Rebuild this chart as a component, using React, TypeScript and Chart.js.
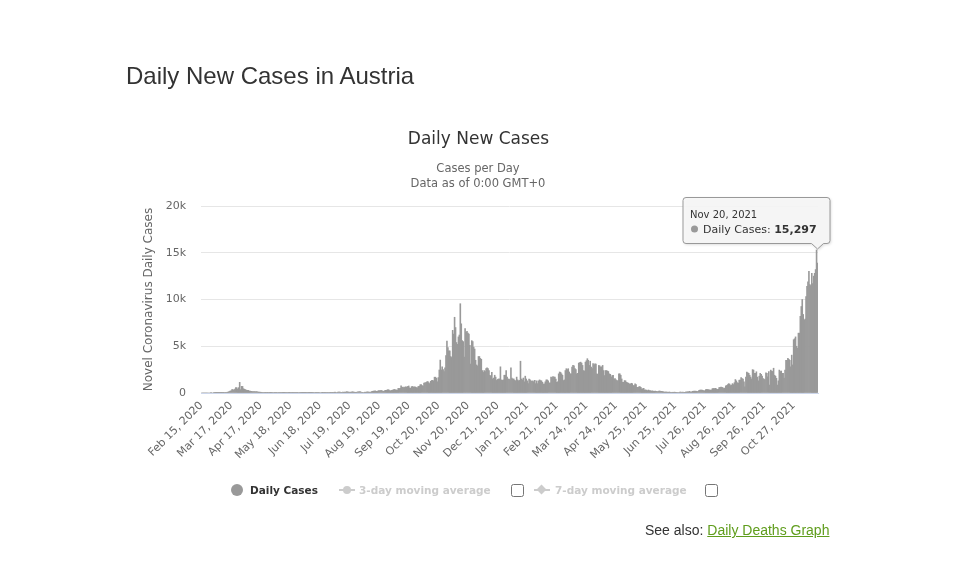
import React, { useEffect, useRef } from "react";
import { Chart, registerables } from "chart.js";

Chart.register(...registerables);

// ---- Data: daily new cases, Austria, Feb 15, 2020 – Nov 21, 2021 ----
const feb2020 = [0, 0, 0, 0, 0, 0, 0, 0, 0, 0, 2, 0, 0, 1, 6];
const mar2020 = [4, 4, 6, 3, 11, 14, 25, 27, 29, 51, 64, 59, 80, 100, 150, 210, 220, 360, 370, 290, 430, 570, 560, 400, 570, 1140, 360, 710, 700, 460, 400];
const apr2020 = [360, 300, 290, 280, 210, 200, 170, 160, 160, 150, 140, 130, 140, 110, 100, 90, 80, 70, 60, 50, 60, 70, 60, 70, 50, 40, 30, 40, 40, 50];
const may2020 = [40, 30, 35, 45, 50, 40, 55, 60, 45, 30, 20, 30, 45, 60, 50, 40, 30, 45, 50, 40, 35, 30, 25, 45, 40, 35, 50, 40, 45, 30, 25];
const jun2020 = [30, 35, 25, 40, 45, 30, 25, 20, 35, 40, 45, 50, 35, 30, 25, 40, 45, 50, 55, 45, 35, 60, 70, 60, 50, 45, 50, 60, 70, 65];
const jul2020 = [70, 60, 80, 90, 50, 60, 110, 100, 90, 80, 70, 90, 80, 100, 90, 140, 120, 100, 80, 90, 100, 130, 110, 90, 80, 70, 100, 130, 120, 140, 110];
const aug2020 = [80, 60, 50, 90, 80, 110, 120, 100, 90, 70, 150, 180, 200, 210, 230, 180, 170, 220, 250, 240, 290, 220, 200, 180, 250, 280, 300, 350, 340, 260, 230];
const sep2020 = [280, 300, 350, 380, 340, 320, 300, 490, 480, 500, 770, 600, 630, 550, 630, 660, 640, 700, 750, 550, 500, 680, 700, 630, 660, 640, 580, 560, 700, 720];
const oct2020 = [880, 900, 800, 750, 1050, 1100, 1120, 1200, 1230, 1100, 1000, 1250, 1340, 1350, 1300, 1690, 1690, 1580, 1200, 1650, 2460, 3520, 2460, 2800, 2500, 2300, 2700, 4000, 5550, 4860, 4500];
const nov2020 = [4500, 3900, 3800, 6700, 6300, 8100, 7000, 5400, 5200, 6000, 6200, 9550, 7400, 5600, 5500, 3850, 6900, 6500, 6600, 6400, 6300, 5100, 3100, 5600, 5500, 4900, 4700, 3500, 3000, 2900];
const dec2020 = [3900, 3900, 3700, 3600, 2400, 2200, 2400, 2300, 2600, 2700, 2600, 2400, 1900, 1800, 2200, 1500, 1600, 1900, 1700, 1350, 1450, 1500, 1500, 2800, 1400, 1350, 1400, 1900, 1900, 2400, 1700];
const jan2021 = [1500, 1500, 1400, 2700, 1600, 1500, 1500, 1350, 1300, 1700, 1400, 1300, 1350, 3400, 1500, 1400, 1600, 1200, 1800, 1500, 1300, 1000, 1500, 1400, 1300, 1250, 1300, 1200, 1350, 1000, 1300];
const feb2021 = [1000, 1300, 1400, 1330, 1300, 1150, 950, 970, 1200, 1400, 1400, 1300, 1050, 1100, 1700, 1650, 1750, 1700, 1700, 1500, 1150, 1200, 2050, 2250, 2200, 2050, 1900, 1330];
const mar2021 = [1400, 2400, 2600, 2500, 2600, 2250, 2050, 2050, 2770, 2950, 2900, 2600, 2500, 2050, 2100, 3200, 3250, 3300, 3200, 2950, 2400, 2350, 3300, 3450, 3670, 3500, 2950, 3400, 2770, 2600, 3150];
const apr2021 = [3000, 3130, 3100, 2050, 2000, 2950, 2900, 2770, 2800, 2950, 2400, 1870, 2400, 2400, 2350, 2300, 2050, 2000, 1700, 1870, 1900, 1500, 1550, 1400, 1330, 1300, 2050, 2050, 1900, 1500];
const may2021 = [1150, 1150, 1330, 1300, 1150, 1100, 1050, 970, 950, 1040, 1000, 800, 790, 970, 900, 610, 600, 650, 680, 600, 430, 450, 500, 320, 330, 300, 250, 320, 260, 250, 200];
const jun2021 = [230, 200, 180, 210, 190, 150, 160, 200, 210, 190, 170, 150, 120, 90, 110, 100, 90, 80, 110, 70, 60, 80, 70, 90, 80, 75, 60, 50, 80, 90];
const jul2021 = [90, 80, 100, 60, 70, 110, 110, 130, 130, 180, 110, 100, 180, 190, 200, 200, 190, 150, 180, 290, 300, 310, 300, 280, 220, 240, 360, 380, 370, 350, 320];
const aug2021 = [300, 330, 470, 480, 470, 500, 450, 380, 400, 580, 600, 620, 600, 560, 460, 520, 760, 800, 900, 1000, 950, 800, 850, 1000, 900, 1100, 1440, 1300, 1100, 1050, 1370];
const sep2021 = [1370, 1650, 1550, 1500, 1200, 650, 1700, 2230, 2160, 2100, 1900, 1700, 1500, 2500, 2450, 2100, 2100, 2270, 1700, 1300, 1800, 2100, 2000, 1800, 1550, 1500, 1400, 2160, 2100, 1730];
const oct2021 = [2300, 850, 2450, 2350, 2300, 2650, 1900, 1800, 1570, 850, 1300, 2450, 2300, 2350, 2100, 2100, 1600, 2450, 3500, 3500, 3700, 3600, 3500, 2800, 4050, 3000, 5700, 5800, 6000, 5000, 4800];
const nov2021 = [6400, 6400, 8200, 9250, 10000, 8400, 7800, 7900, 10300, 11400, 11900, 13000, 11600, 11500, 12800, 11700, 12500, 12800, 13200, 15297, 13900];

const dailyCases: number[] = [
  ...feb2020, ...mar2020, ...apr2020, ...may2020, ...jun2020, ...jul2020,
  ...aug2020, ...sep2020, ...oct2020, ...nov2020, ...dec2020,
  ...jan2021, ...feb2021, ...mar2021, ...apr2021, ...may2021, ...jun2021,
  ...jul2021, ...aug2021, ...sep2021, ...oct2021, ...nov2021,
];

const START_DATE = Date.UTC(2020, 1, 15);
const MONTH_NAMES = ["Jan", "Feb", "Mar", "Apr", "May", "Jun", "Jul", "Aug", "Sep", "Oct", "Nov", "Dec"];
const categories: string[] = dailyCases.map((_, i) => {
  const d = new Date(START_DATE + i * 86400000);
  return `${MONTH_NAMES[d.getUTCMonth()]} ${d.getUTCDate()}, ${d.getUTCFullYear()}`;
});

const TICK_STEP = 31;
const TICK_LABELS = [
  "Feb 15, 2020", "Mar 17, 2020", "Apr 17, 2020", "May 18, 2020", "Jun 18, 2020",
  "Jul 19, 2020", "Aug 19, 2020", "Sep 19, 2020", "Oct 20, 2020", "Nov 20, 2020",
  "Dec 21, 2020", "Jan 21, 2021", "Feb 21, 2021", "Mar 24, 2021", "Apr 24, 2021",
  "May 25, 2021", "Jun 25, 2021", "Jul 26, 2021", "Aug 26, 2021", "Sep 26, 2021",
  "Oct 27, 2021",
];
const Y_TICKS = [0, 5000, 10000, 15000, 20000];
const HOVER_LABEL = "Nov 20, 2021";

const FONT = "'DejaVu Sans', 'Lucida Sans Unicode', sans-serif";
const BAR_COLOR = "#999999";

const tooltipPlugin = {
  id: "staticTooltip",
  afterDatasetsDraw(chart: any) {
    const idx = categories.indexOf(HOVER_LABEL);
    if (idx < 0) return;
    const el = chart.getDatasetMeta(0).data[idx];
    if (!el) return;
    const ctx = chart.ctx;
    const bx = Math.round(el.x) + 0.5;
    const by = el.y;
    const w = 147;
    const h = 46;
    const right = bx + 12.5;
    const left = right - w;
    const bottom = Math.round(by - 7) + 0.5;
    const top = bottom - h;
    const r = 3;
    ctx.save();
    ctx.beginPath();
    ctx.moveTo(left + r, top);
    ctx.lineTo(right - r, top);
    ctx.quadraticCurveTo(right, top, right, top + r);
    ctx.lineTo(right, bottom - r);
    ctx.quadraticCurveTo(right, bottom, right - r, bottom);
    ctx.lineTo(bx + 6, bottom);
    ctx.lineTo(bx, by - 1);
    ctx.lineTo(bx - 6, bottom);
    ctx.lineTo(left + r, bottom);
    ctx.quadraticCurveTo(left, bottom, left, bottom - r);
    ctx.lineTo(left, top + r);
    ctx.quadraticCurveTo(left, top, left + r, top);
    ctx.closePath();
    ctx.shadowColor = "rgba(0,0,0,0.18)";
    ctx.shadowOffsetX = 1;
    ctx.shadowOffsetY = 1;
    ctx.shadowBlur = 3;
    ctx.fillStyle = "rgba(247,247,247,0.92)";
    ctx.fill();
    ctx.shadowColor = "transparent";
    ctx.strokeStyle = "#999999";
    ctx.lineWidth = 1;
    ctx.stroke();

    ctx.fillStyle = "#333333";
    ctx.textBaseline = "alphabetic";
    ctx.textAlign = "left";
    ctx.font = `10px ${FONT}`;
    ctx.fillText(categories[idx], left + 7, top + 20);

    ctx.beginPath();
    ctx.arc(left + 11.5, top + 31.5, 3.5, 0, Math.PI * 2);
    ctx.fillStyle = BAR_COLOR;
    ctx.fill();

    ctx.fillStyle = "#333333";
    ctx.font = `11px ${FONT}`;
    const lbl = "Daily Cases: ";
    ctx.fillText(lbl, left + 20, top + 35);
    const lw = ctx.measureText(lbl).width;
    ctx.font = `bold 11px ${FONT}`;
    ctx.fillText(dailyCases[idx].toLocaleString("en-US"), left + 20 + lw, top + 35);
    ctx.restore();
  },
};

function abs(left: number, top: number, extra: React.CSSProperties = {}): React.CSSProperties {
  return { position: "absolute", left, top, whiteSpace: "nowrap", ...extra };
}

export default function App() {
  const canvasRef = useRef<HTMLCanvasElement | null>(null);

  useEffect(() => {
    if (!canvasRef.current) return;
    const chart = new Chart(canvasRef.current, {
      type: "bar",
      data: {
        labels: categories,
        datasets: [
          {
            label: "Daily Cases",
            data: dailyCases,
            backgroundColor: BAR_COLOR,
            borderWidth: 0,
            barPercentage: 1,
            categoryPercentage: 1,
          },
        ],
      },
      options: {
        responsive: false,
        animation: false,
        devicePixelRatio: 1,
        events: [],
        layout: { padding: { left: 140, top: 206, right: 156, bottom: 80 } },
        plugins: {
          legend: { display: false },
          title: { display: false },
          tooltip: { enabled: false },
        },
        scales: {
          x: {
            type: "category",
            offset: true,
            grid: { display: false, drawTicks: false },
            border: { display: true, color: "#ccd6eb", width: 1 },
            afterFit: (scale: any) => {
              scale.height = 97;
            },
            ticks: {
              autoSkip: false,
              minRotation: 45,
              maxRotation: 45,
              padding: 6,
              color: "#666666",
              font: { family: FONT, size: 11 },
              callback: (_v: any, i: number) =>
                i % TICK_STEP === 0 ? TICK_LABELS[i / TICK_STEP] ?? "" : "",
            },
          },
          y: {
            min: 0,
            max: 20000,
            afterFit: (scale: any) => {
              scale.width = 61;
            },
            afterBuildTicks: (scale: any) => {
              scale.ticks = Y_TICKS.map((v) => ({ value: v }));
            },
            grid: {
              color: (c: any) => (c.tick && c.tick.value === 0 ? "rgba(0,0,0,0)" : "#e6e6e6"),
              drawTicks: false,
            },
            border: { display: false },
            title: {
              display: true,
              text: "Novel Coronavirus Daily Cases",
              color: "#666666",
              font: { family: FONT, size: 12 },
              padding: { top: 2, bottom: 0 },
            },
            ticks: {
              padding: 15,
              color: "#666666",
              font: { family: FONT, size: 11 },
              callback: (v: any) => (Number(v) === 0 ? "0" : `${Number(v) / 1000}k`),
            },
          },
        },
      },
      plugins: [tooltipPlugin],
    });
    return () => chart.destroy();
  }, []);

  return (
    <div style={{ position: "absolute", left: 0, top: 0, width: 974, height: 570, background: "#fff", overflow: "hidden" }}>
      <canvas ref={canvasRef} width={974} height={570} style={{ position: "absolute", left: 0, top: 0, width: 974, height: 570 }} />
      <div style={abs(126, 64, { fontFamily: "'Liberation Sans', Arial, sans-serif", fontSize: 24, lineHeight: "24px", color: "#333" })}>
        Daily New Cases in Austria
      </div>
      <div style={abs(0, 129.5, { width: 957, textAlign: "center", fontFamily: FONT, fontSize: 17, lineHeight: "17px", color: "#333" })}>
        Daily New Cases
      </div>
      <div style={abs(0, 161, { width: 956, textAlign: "center", fontFamily: FONT, fontSize: 11.5, lineHeight: "15px", color: "#666" })}>
        Cases per Day
        <br />
        Data as of 0:00 GMT+0
      </div>
      {/* legend */}
      <div style={abs(231, 484, { width: 12, height: 12, borderRadius: 6, background: BAR_COLOR })} />
      <div style={abs(250, 484, { fontFamily: FONT, fontSize: 10.5, lineHeight: "12px", fontWeight: "bold", color: "#333" })}>
        Daily Cases
      </div>
      <div style={abs(339, 489, { width: 16, height: 2, background: "#cccccc" })} />
      <div style={abs(343, 486, { width: 8, height: 8, borderRadius: 4, background: "#cccccc" })} />
      <div style={abs(359, 484, { fontFamily: FONT, fontSize: 10.5, lineHeight: "12px", fontWeight: "bold", color: "#cccccc" })}>
        3-day moving average
      </div>
      <input type="checkbox" readOnly style={abs(511, 484, { margin: 0, width: 13, height: 13 })} />
      <div style={abs(534, 489, { width: 16, height: 2, background: "#cccccc" })} />
      <div style={abs(538, 486, { width: 7, height: 7, background: "#cccccc", transform: "rotate(45deg)" })} />
      <div style={abs(555, 484, { fontFamily: FONT, fontSize: 10.5, lineHeight: "12px", fontWeight: "bold", color: "#cccccc" })}>
        7-day moving average
      </div>
      <input type="checkbox" readOnly style={abs(705, 484, { margin: 0, width: 13, height: 13 })} />
      <div style={abs(645, 523, { fontFamily: "'Liberation Sans', Arial, sans-serif", fontSize: 14, lineHeight: "14px", color: "#333" })}>
        See also:{" "}
        <span style={{ color: "#5f9d1c", textDecoration: "underline" }}>Daily Deaths Graph</span>
      </div>
    </div>
  );
}
